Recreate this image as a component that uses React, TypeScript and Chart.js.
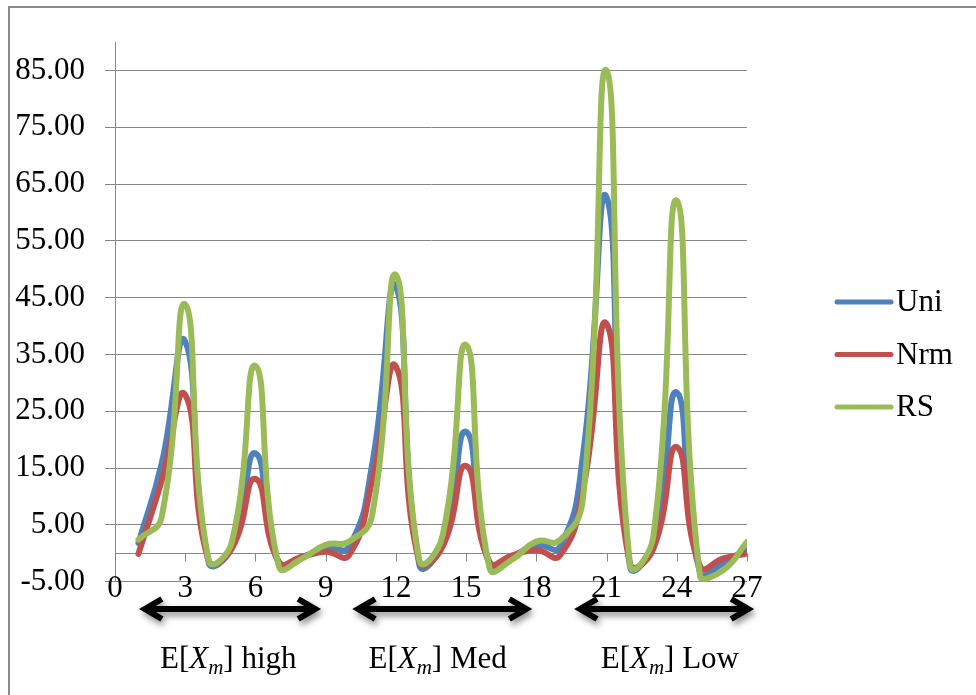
import React, { useEffect, useRef } from 'react';
import { Chart, registerables } from 'chart.js';

Chart.register(...registerables);

// ---- data ----
const X_VALUES = [1, 2, 3, 4, 5, 6, 7, 8, 9, 10, 11, 12, 13, 14, 15, 16, 17, 18, 19, 20, 21, 22, 23, 24, 25, 26, 27];
const UNI = [1.8, 15.9, 37.3, -1.6, 1.2, 17.6, -1.8, -0.6, 0.9, 1.2, 16, 47, -2, 1.8, 21.4, -2, -0.5, 1.5, 1.1, 17.5, 62.7, -2.3, 2, 28.3, -3.5, -1.7, 0.8];
const NRM = [-0.1, 12.9, 27.9, -1.3, 0.9, 13.1, -1.5, -0.6, 0.3, -0.3, 13, 32.9, -1.5, 1.2, 15.4, -1.5, -0.3, 0.6, -0.4, 11.3, 40.4, -1.8, 0.8, 18.7, -2.3, -0.9, 0];
const RS = [2.4, 6.5, 43.8, -1.2, 2.1, 33, -2.3, -0.9, 1.5, 2.1, 7, 49, -1.2, 3.2, 36.7, -2.6, -1, 2.1, 2.3, 10, 85, -2, 3, 62.1, -4.2, -2.9, 2];
const SERIES_NAMES = ['Uni', 'Nrm', 'RS'];
const X_TICKS = [0, 3, 6, 9, 12, 15, 18, 21, 24, 27];
const Y_TICKS = [-5, 5, 15, 25, 35, 45, 55, 65, 75, 85];
const GROUP_NAMES = ['high', 'Med', 'Low'];

// ---- styles ----
const COLORS = ['#4F81BD', '#C0504D', '#9BBB59'];
const GRID_COLOR = '#878787';
const FONT_FAMILY = "'Liberation Serif', 'Times New Roman', serif";
const FONT_SIZE = 31;

// annotation geometry (in x-axis units)
const ARROW_SPANS = [[1.15, 8.68], [10.26, 17.7], [19.74, 27.18]];
const LABEL_STARTS = [1.92, 10.83, 20.75];

function drawRich(ctx: CanvasRenderingContext2D, x: number, baseline: number, parts: { t: string; it?: boolean; sub?: boolean }[]) {
  let cx = x;
  for (const p of parts) {
    const size = p.sub ? 21 : FONT_SIZE;
    ctx.font = `${p.it ? 'italic ' : ''}${size}px ${FONT_FAMILY}`;
    ctx.fillText(p.t, cx, baseline + (p.sub ? 6 : 0));
    cx += ctx.measureText(p.t).width;
  }
}

const decorPlugin = {
  id: 'decor',
  beforeDatasetsDraw(chart: any) {
    const { ctx, scales } = chart;
    const x = scales.x;
    const y = scales.y;
    const yy = Math.round(y.getPixelForValue(0)) + 0.5;
    ctx.save();
    ctx.strokeStyle = GRID_COLOR;
    ctx.lineWidth = 1;
    ctx.beginPath();
    ctx.moveTo(x.left, yy);
    ctx.lineTo(x.right, yy);
    for (const t of X_TICKS) {
      if (t === 0) continue;
      const px = Math.round(x.getPixelForValue(t)) + 0.5;
      ctx.moveTo(px, yy);
      ctx.lineTo(px, yy + 8);
    }
    ctx.stroke();
    ctx.restore();
  },
  afterDraw(chart: any) {
    const { ctx, scales } = chart;
    const x = scales.x;
    ctx.save();
    // x tick labels (drawn here so they are not clipped to the axis box)
    ctx.fillStyle = '#000';
    ctx.font = `${FONT_SIZE}px ${FONT_FAMILY}`;
    ctx.textAlign = 'center';
    ctx.textBaseline = 'middle';
    for (const t of X_TICKS) {
      ctx.fillText(String(t), x.getPixelForValue(t), 588.5);
    }
    // legend
    chart.data.datasets.forEach((ds: any, i: number) => {
      const ly = 302 + i * 52.5;
      ctx.strokeStyle = ds.borderColor;
      ctx.lineWidth = 5;
      ctx.lineCap = 'round';
      ctx.beginPath();
      ctx.moveTo(837, ly);
      ctx.lineTo(891, ly);
      ctx.stroke();
      ctx.fillStyle = '#000';
      ctx.font = `${FONT_SIZE}px ${FONT_FAMILY}`;
      ctx.textAlign = 'left';
      ctx.textBaseline = 'middle';
      ctx.fillText(ds.label, 896, ly + 1);
    });
    // arrows
    const ay = 609;
    ctx.save();
    ctx.shadowColor = 'rgba(0,0,0,0.45)';
    ctx.shadowBlur = 6;
    ctx.shadowOffsetX = 2;
    ctx.shadowOffsetY = 4;
    ctx.strokeStyle = '#000';
    ctx.lineWidth = 6;
    ctx.lineCap = 'butt';
    ctx.lineJoin = 'miter';
    for (const [a, b] of ARROW_SPANS) {
      const x1 = x.getPixelForValue(a) + 3;
      const x2 = x.getPixelForValue(b) - 3;
      ctx.beginPath();
      ctx.moveTo(x1 + 17, ay - 10);
      ctx.lineTo(x1, ay);
      ctx.lineTo(x1 + 17, ay + 10);
      ctx.moveTo(x1 + 2, ay);
      ctx.lineTo(x2 - 2, ay);
      ctx.moveTo(x2 - 17, ay - 10);
      ctx.lineTo(x2, ay);
      ctx.lineTo(x2 - 17, ay + 10);
      ctx.stroke();
    }
    ctx.restore();
    // group labels
    ctx.fillStyle = '#000';
    ctx.textAlign = 'left';
    ctx.textBaseline = 'alphabetic';
    GROUP_NAMES.forEach((g, i) => {
      const sx = x.getPixelForValue(LABEL_STARTS[i]);
      drawRich(ctx, sx, 668, [{ t: 'E[' }, { t: 'X', it: true }, { t: 'm', it: true, sub: true }, { t: '] ' + g }]);
    });
    ctx.restore();
  },
};

export default function App() {
  const ref = useRef<HTMLCanvasElement>(null);
  useEffect(() => {
    const canvas = ref.current!;
    const series = [UNI, NRM, RS];
    const chart = new Chart(canvas, {
      type: 'line',
      data: {
        datasets: series.map((s, i) => ({
          label: SERIES_NAMES[i],
          data: X_VALUES.map((xv, j) => ({ x: xv, y: s[j] })),
          borderColor: COLORS[i],
          backgroundColor: COLORS[i],
          borderWidth: 6,
          pointRadius: 0,
          tension: 0.5,
          borderCapStyle: 'round',
          borderJoinStyle: 'round',
          fill: false,
          order: 3 - i,
        })),
      },
      options: {
        responsive: false,
        animation: false,
        layout: { padding: { left: 0, right: 229, top: 42, bottom: 0 } },
        plugins: { legend: { display: false }, tooltip: { enabled: false } },
        scales: {
          x: {
            type: 'linear',
            min: 0,
            max: 27,
            afterBuildTicks: (s: any) => { s.ticks = X_TICKS.map((v) => ({ value: v })); },
            afterFit: (s: any) => { s.height = 695 - 581.75; },
            grid: { display: false, drawTicks: false },
            border: { display: false },
            ticks: { display: false },
          },
          y: {
            min: -5,
            max: 90,
            afterBuildTicks: (s: any) => { s.ticks = Y_TICKS.map((v) => ({ value: v })); },
            afterFit: (s: any) => { s.width = 115; },
            grid: { color: GRID_COLOR, lineWidth: 1, tickLength: 10, drawTicks: true },
            border: { display: true, color: GRID_COLOR, width: 1 },
            ticks: {
              padding: 20,
              color: '#000',
              font: { family: FONT_FAMILY, size: FONT_SIZE },
              callback: (v: any) => Number(v).toFixed(2),
            },
          },
        },
      },
      plugins: [decorPlugin],
    } as any);
    return () => chart.destroy();
  }, []);

  return (
    <div style={{ position: 'fixed', left: 0, top: 0, width: 976, height: 695, overflow: 'hidden', background: '#fff' }}>
      <div style={{ position: 'absolute', left: 8, top: 6, width: 1100, height: 800, border: '2px solid #8b8b8b', boxSizing: 'border-box' }} />
      <canvas ref={ref} width={976} height={695} style={{ position: 'absolute', left: 0, top: 0, width: 976, height: 695 }} />
    </div>
  );
}
